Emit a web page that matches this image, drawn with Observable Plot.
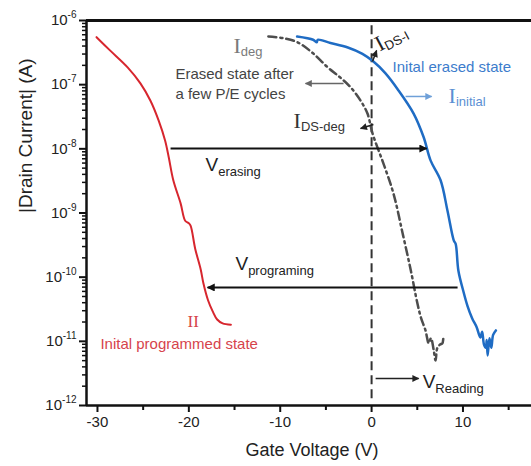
<!DOCTYPE html>
<html><head><meta charset="utf-8">
<script src="https://cdn.jsdelivr.net/npm/d3@7"></script>
<script src="https://cdn.jsdelivr.net/npm/@observablehq/plot@0.6"></script>
<style>html,body{margin:0;padding:0;background:#fff;}</style>
</head><body><div id="chart"></div>
<script>
// ---- data (gate voltage V, log10 of |drain current| A) ----
const programmedV = [-30.1,-28.6,-26.7,-25.3,-24.2,-23.3,-22.6,-22.2,-21.7,-20.9,-20.4,-20.0,-19.8,-19.3,-18.7,-18.4,-17.9,-17.4,-16.9,-16.3,-15.4];
const programmedLogI = [-6.26,-6.47,-6.73,-6.98,-7.25,-7.56,-7.87,-8.13,-8.49,-8.85,-9.12,-9.16,-9.20,-9.56,-9.88,-10.1,-10.36,-10.53,-10.66,-10.72,-10.74];

const erasedV = [-8.15,-6.4,-6.0,-5.9,-4.5,-2.6,-1.0,0.2,1.5,2.85,4.6,5.7,6.45,7.55,8.3,9.0,9.2,9.5,10.1,10.5,11.0,11.5,11.9,12.1,12.3,12.5,12.6,12.7,12.9,13.1,13.3,13.6];
const erasedLogI = [-6.25,-6.30,-6.34,-6.30,-6.35,-6.42,-6.52,-6.64,-6.82,-7.07,-7.45,-7.82,-8.18,-8.49,-8.96,-9.43,-9.48,-9.9,-10.25,-10.45,-10.64,-10.78,-10.94,-10.85,-11.05,-11.1,-10.98,-11.22,-10.95,-11.1,-10.9,-10.83];

const degradedV = [-11.3,-9.5,-8.1,-6.5,-4.8,-3.5,-2.3,-1.2,-0.45,0.1,0.7,1.3,2.4,3.4,4.3,5.0,5.4,5.9,6.25,6.5,6.8,7.0,7.2,7.5,7.75,7.9,8.1];
const degradedLogI = [-6.25,-6.28,-6.34,-6.5,-6.73,-6.88,-7.04,-7.25,-7.45,-7.76,-8.0,-8.23,-8.7,-9.32,-9.9,-10.4,-10.63,-10.83,-11.03,-10.95,-11.14,-11.3,-11.1,-11.05,-11.03,-10.94,-10.94];

const xTicks = [-30,-20,-10,0,10];
const xMinorTicks = [-25,-15,-5,5,15];
const yDecades = [-12,-11,-10,-9,-8,-7,-6];

// annotations (data coordinates: V, log10 I)
const arrowX1 = [-3.07, 0.2, 0.1, 3.72, -22.0, 9.41, 0.44];
const arrowY1 = [-6.982, -7.621, -6.639, -7.184, -7.995, -10.161, -11.579];
const arrowX2 = [-7.23, -1.2, 0.55, 6.57, 6.02, -17.95, 5.15];
const arrowY2 = [-6.982, -7.683, -6.468, -7.184, -7.995, -10.161, -11.579];
const arrowColor = ["#666666","#222222","#222222","#6fa0d8","#111111","#111111","#222222"];

const noteText = ["Erased state after","a few P/E cycles","Inital erased state","Inital programmed state"];
const noteX = [-21.47,-21.47,2.3,-29.68];
const noteY = [-6.919,-7.231,-6.795,-11.127];
const noteColor = ["#444444","#444444","#3c7ccc","#d6434b"];

const symText = ["I_deg","I_DS-deg","I_initial","V_erasing","V_programing","V_Reading"];
const symX = [-15.12,-8.54,8.43,-18.18,-14.9,5.59];
const symY = [-6.514,-7.683,-7.293,-8.338,-9.896,-11.735];
const symColor = ["#7a7a7a","#333333","#5b8fd3","#222222","#222222","#222222"];

const rows = (vs, ls) => vs.map((v, k) => ({v, i: 10 ** ls[k]}));
const programmed = rows(programmedV, programmedLogI);
const erased = rows(erasedV, erasedLogI);
const degraded = rows(degradedV, degradedLogI);
const arrows = arrowX1.map((_, k) => ({x1: arrowX1[k], y1: 10 ** arrowY1[k], x2: arrowX2[k], y2: 10 ** arrowY2[k], c: arrowColor[k]}));
const notes = noteText.map((t, k) => ({t, x: noteX[k], y: 10 ** noteY[k], c: noteColor[k]}));
const syms = symText.map((t, k) => ({t, x: symX[k], y: 10 ** symY[k], c: symColor[k]}));
const yMajor = yDecades.map(d => 10 ** d);
const yMinor = yDecades.slice(0, -1).flatMap(d => [2,3,4,5,6,7,8,9].map(k => k * 10 ** d));

const SANS = "Liberation Sans, Arial, Helvetica, sans-serif";
const SERIF = "Liberation Serif, Times New Roman, serif";
const xMin = -31.2;

const svg = Plot.plot({
  width: 531, height: 466,
  marginLeft: 86, marginRight: 0, marginTop: 20, marginBottom: 61,
  style: {fontFamily: SANS, fontSize: "15px", background: "#fff", color: "#222"},
  x: {domain: [xMin, 17.5], label: null},
  y: {type: "log", domain: [1e-12, 1e-6], label: null},
  color: {type: "identity"},
  marks: [
    Plot.ruleX([0], {y1: 10 ** -6.08, y2: 10 ** -11.93, stroke: "#333", strokeWidth: 2, strokeDasharray: "9,5"}),
    Plot.line(programmed, {x: "v", y: "i", stroke: "#d7262e", strokeWidth: 2, curve: "catmull-rom"}),
    Plot.line(degraded, {x: "v", y: "i", stroke: "#4d4d4d", strokeWidth: 2.5, strokeDasharray: "8,4,2,4", curve: "catmull-rom"}),
    Plot.line(erased, {x: "v", y: "i", stroke: "#1f6cc4", strokeWidth: 2.5, curve: "catmull-rom"}),
    Plot.link(arrows, {x1: "x1", y1: "y1", x2: "x2", y2: "y2", stroke: "c", strokeWidth: 2}),
    Plot.text(notes, {x: "x", y: "y", text: "t", fill: "c", textAnchor: "start", lineAnchor: "bottom", fontSize: 15}),
    Plot.text(syms, {x: "x", y: "y", text: "t", fill: "c", textAnchor: "start", lineAnchor: "bottom"}),
    Plot.text(["I_DS-I"], {x: 0.88, y: 10 ** -6.483, fill: "#222", textAnchor: "start", lineAnchor: "bottom", rotate: -28}),
    Plot.text(["II"], {x: -20.15, y: 10 ** -10.784, fill: "#d6434b", textAnchor: "start", lineAnchor: "bottom", fontFamily: SERIF, fontSize: 17}),
    Plot.ruleX([xMin], {stroke: "#111", strokeWidth: 2.5}),
    Plot.ruleY([1e-6], {stroke: "#111", strokeWidth: 3}),
    Plot.ruleY([1e-12], {stroke: "#111", strokeWidth: 2.5}),
    Plot.axisX(xTicks, {tickSize: 7, tickPadding: 4, tickFormat: d => String(d), fontSize: 15, stroke: "#111", strokeWidth: 2, label: null}),
    Plot.axisX(xMinorTicks, {tickSize: 5, tickFormat: () => "", stroke: "#111", strokeWidth: 2, label: null}),
    Plot.axisY(yMajor, {tickSize: 7, tickPadding: 3, tickFormat: d => "10^" + Math.round(Math.log10(d)), fontSize: 15, stroke: "#111", strokeWidth: 2, label: null}),
    Plot.axisY(yMinor, {tickSize: 4, tickFormat: () => "", stroke: "#111", strokeWidth: 1.5, label: null}),
    Plot.text(["|Drain Current| (A)"], {frameAnchor: "left", dx: -61, rotate: -90, fontSize: 19, fill: "#222"}),
    Plot.text(["Gate Voltage (V)"], {frameAnchor: "bottom", dx: 3, dy: 50, fontSize: 18, fill: "#222"})
  ]
});

// filled arrow heads on the link paths
const root = d3.select(svg);
const defs = root.insert("defs", ":first-child");
const headSize = [[8,7],[8,7],[8,7],[9,7],[11,8],[11,8],[9,7]];
root.selectAll('g[aria-label="link"] path').each(function(_, k) {
  const [L, W] = headSize[k] || [9, 7];
  const id = "ah" + k;
  const m = defs.append("marker").attr("id", id).attr("viewBox", "0 0 10 10")
    .attr("refX", 9).attr("refY", 5).attr("markerUnits", "userSpaceOnUse")
    .attr("markerWidth", L).attr("markerHeight", W).attr("orient", "auto");
  m.append("path").attr("d", "M0,0L10,5L0,10z").attr("fill", arrows[k].c);
  d3.select(this).attr("marker-end", `url(#${id})`).attr("stroke-width", k >= 4 && k <= 5 ? 2 : 1.5);
});

// subscripts / superscripts as tspans
root.selectAll("text").each(function() {
  const t = this.textContent;
  const sel = d3.select(this);
  if (t.includes("_")) {
    const [main, sub] = t.split("_");
    const serif = main.startsWith("I");
    sel.text(null);
    sel.append("tspan").attr("font-family", serif ? SERIF : SANS).attr("font-size", serif ? 22 : 19).text(main);
    if (sub) sel.append("tspan").attr("font-family", SANS).attr("font-size", 13).attr("dy", serif ? 3 : 5).text(sub);
  } else if (t.includes("^")) {
    const [base, exp] = t.split("^");
    sel.text(null);
    sel.append("tspan").attr("font-size", 15).text(base);
    sel.append("tspan").attr("font-size", 10).attr("dy", -7).text(exp);
  }
});

document.getElementById("chart").appendChild(svg);
</script>
</body></html>
